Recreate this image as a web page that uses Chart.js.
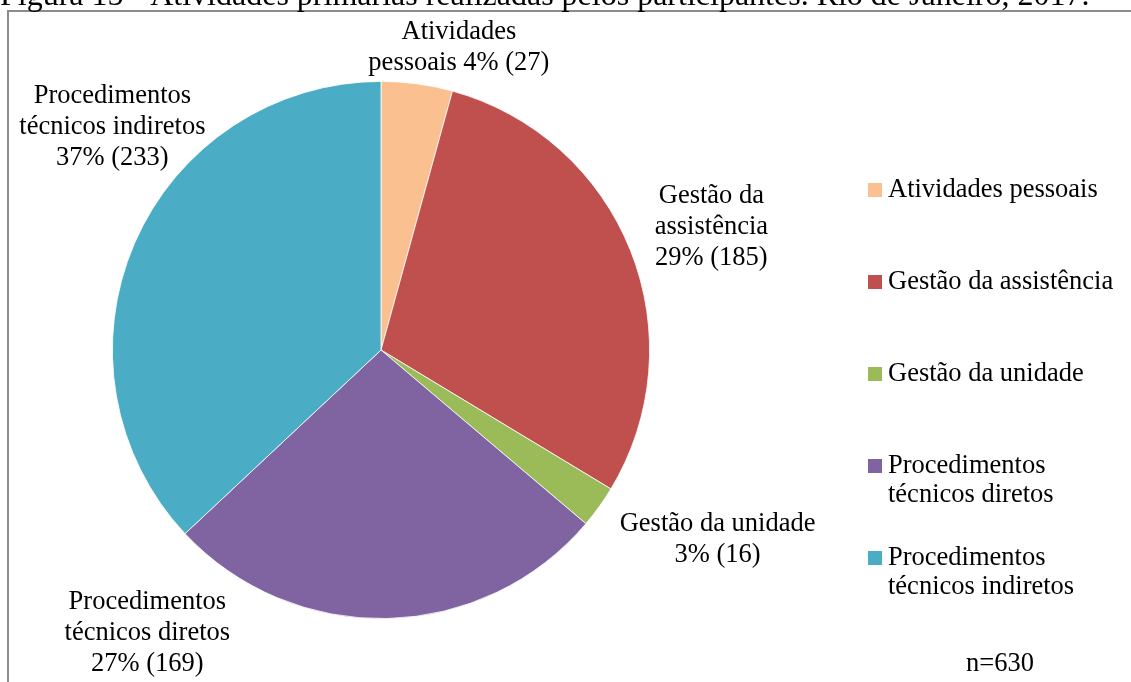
<!DOCTYPE html>
<html>
<head>
<meta charset="utf-8">
<script src="https://cdn.jsdelivr.net/npm/chart.js@4/dist/chart.umd.min.js"></script>
<style>
  html, body { margin: 0; padding: 0; background: #fff; }
  #wrap { width: 1131px; height: 682px; position: relative; }
</style>
</head>
<body>
<div id="wrap"><canvas id="pie-chart" width="1131" height="682"></canvas></div>
<script>
const categories = [
  "Atividades pessoais",
  "Gestão da assistência",
  "Gestão da unidade",
  "Procedimentos técnicos diretos",
  "Procedimentos técnicos indiretos"
];
const counts = [27, 185, 16, 169, 233];
const percents = [4, 29, 3, 27, 37];
const total = 630;
const colors = ["#FAC090", "#C0504D", "#9BBB59", "#8064A2", "#4BACC6"];

// how each label / legend entry breaks into lines
const labelLines = [
  ["Atividades", "pessoais {p}"],
  ["Gestão da", "assistência", "{p}"],
  ["Gestão da unidade", "{p}"],
  ["Procedimentos", "técnicos diretos", "{p}"],
  ["Procedimentos", "técnicos indiretos", "{p}"]
];
const legendLines = [
  ["Atividades pessoais"],
  ["Gestão da assistência"],
  ["Gestão da unidade"],
  ["Procedimentos", "técnicos diretos"],
  ["Procedimentos", "técnicos indiretos"]
];
const titleText = "Figura 15 - Atividades primárias realizadas pelos participantes. Rio de Janeiro, 2017.";

const FONT = '26.5px "Liberation Serif", "Times New Roman", serif';
const LINE_H = 31;
// label anchors (center of the text block), as offsets from pie center in radius units
const labelAnchor = [
  [0.29, -1.126], [1.23, -0.457], [1.253, 0.704], [-0.87, 1.052], [-1.0, -0.83]
];

const extras = {
  id: "extras",
  afterDraw(chart) {
    const ctx = chart.ctx;
    const arc = chart.getDatasetMeta(0).data[0];
    const cx = arc.x, cy = arc.y, r = arc.outerRadius;
    ctx.save();
    ctx.font = FONT;
    ctx.fillStyle = "#000";
    ctx.textBaseline = "middle";

    // frame
    ctx.strokeStyle = "#8c8c8c";
    ctx.lineWidth = 2;
    ctx.beginPath();
    ctx.moveTo(8, 690);
    ctx.lineTo(8, 11);
    ctx.lineTo(1140, 11);
    ctx.stroke();

    // title (clipped at top, as in the source)
    ctx.font = '32px "Liberation Serif", "Times New Roman", serif';
    ctx.textAlign = "left";
    ctx.textBaseline = "alphabetic";
    ctx.fillText(titleText, 0, 5);
    ctx.textBaseline = "middle";
    ctx.font = FONT;

    // slice labels
    ctx.textAlign = "center";
    labelLines.forEach((lines, i) => {
      const pct = percents[i] + "% (" + counts[i] + ")";
      const x = cx + labelAnchor[i][0] * r;
      const y = cy + labelAnchor[i][1] * r;
      const y0 = y - (lines.length - 1) * LINE_H / 2;
      lines.forEach((t, j) => ctx.fillText(t.replace("{p}", pct), x, y0 + j * LINE_H));
    });

    // legend
    ctx.textAlign = "left";
    const lx = 868, ly0 = 190, step = 92;
    legendLines.forEach((lines, i) => {
      const y = ly0 + i * step;
      ctx.fillStyle = colors[i];
      ctx.fillRect(lx, y - 7, 14, 14);
      ctx.fillStyle = "#000";
      lines.forEach((t, j) => ctx.fillText(t, lx + 20, y + j * 29.5));
    });

    // n
    ctx.textAlign = "center";
    ctx.fillText("n=" + total, 1000, 664);
    ctx.restore();
  }
};

new Chart(document.getElementById("pie-chart"), {
  type: "pie",
  data: {
    labels: categories,
    datasets: [{
      data: counts,
      backgroundColor: colors,
      borderColor: "#ffffff",
      borderWidth: 0.8
    }]
  },
  options: {
    responsive: false,
    animation: false,
    devicePixelRatio: 1,
    layout: { padding: { top: 81, bottom: 63, left: 112, right: 481 } },
    plugins: {
      legend: { display: false },
      tooltip: { enabled: false }
    }
  },
  plugins: [extras]
});
</script>
</body>
</html>
